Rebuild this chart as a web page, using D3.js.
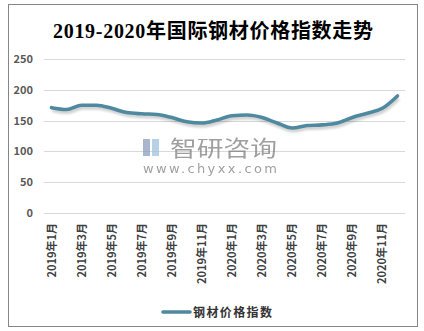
<!DOCTYPE html>
<html><head><meta charset="utf-8">
<script src="https://cdn.jsdelivr.net/npm/d3@7"></script>
<style>body{margin:0;background:#fff}svg{display:block}</style>
</head><body><svg id="c" width="424" height="331"></svg>
<script>
const title = "2019-2020年国际钢材价格指数走势";
const seriesName = "钢材价格指数";
const months = ["2019年1月","2019年2月","2019年3月","2019年4月","2019年5月","2019年6月","2019年7月","2019年8月","2019年9月","2019年10月","2019年11月","2019年12月",
"2020年1月","2020年2月","2020年3月","2020年4月","2020年5月","2020年6月","2020年7月","2020年8月","2020年9月","2020年10月","2020年11月","2020年12月"];
const values = [171,168,175,175,170,163,161,160,155,148,146,151,158,159,155,146,138,142,143,146,155,162,170,190];
const yTicks = [0,50,100,150,200,250];

const svg = d3.select("#c");
const cjk = "'Noto Sans CJK SC','Microsoft YaHei',sans-serif";
svg.append("rect").attr("x",8.5).attr("y",4.5).attr("width",409).attr("height",322)
  .attr("fill","#fff").attr("stroke","#868686").attr("stroke-width",1);

svg.append("text").attr("x",213).attr("y",38).attr("text-anchor","middle")
  .attr("font-family","'Liberation Serif','Noto Sans CJK SC',serif").attr("font-weight","bold")
  .attr("font-size",20).attr("fill","#000").attr("textLength",320).attr("lengthAdjust","spacing").text(title);

const x = d3.scaleBand().domain(months).range([44,405]);
const y = d3.scaleLinear().domain([0,250]).range([213,59]);

const grid = svg.append("g");
grid.selectAll("line").data(yTicks).join("line")
  .attr("x1",44).attr("x2",405).attr("y1",d=>Math.round(y(d))+0.5).attr("y2",d=>Math.round(y(d))+0.5)
  .attr("stroke","#d9d9d9").attr("stroke-width",1);

const yAxis = d3.axisLeft(y).tickValues(yTicks).tickSize(0).tickPadding(0);
const gy = svg.append("g").attr("transform","translate(33,0)").call(yAxis);
gy.select(".domain").remove();
gy.selectAll("text").attr("font-family",cjk).attr("font-size",11).attr("font-weight","bold").attr("fill","#595959");

// watermark
const wm = svg.append("g").attr("opacity",0.75);
wm.append("rect").attr("x",143).attr("y",139).attr("width",7).attr("height",17).attr("fill","#8a9fbf");
wm.append("rect").attr("x",152).attr("y",139).attr("width",7).attr("height",17).attr("fill","#9fc3e0");
wm.append("text").attr("x",170).attr("y",156).attr("font-family",cjk).attr("font-size",22)
  .attr("fill","#7f7f7f").attr("textLength",107).attr("lengthAdjust","spacingAndGlyphs").text("智研咨询");
wm.append("text").attr("x",143).attr("y",173).attr("font-family","'DejaVu Sans',sans-serif").attr("font-size",13)
  .attr("fill","#7f7f7f").attr("textLength",134).attr("lengthAdjust","spacing").text("www.chyxx.com");

const line = d3.line().x((d,i)=>x(months[i])+x.bandwidth()/2).y(d=>y(d)).curve(d3.curveMonotoneX);
svg.append("path").datum(values).attr("d",line).attr("fill","none")
  .attr("stroke","#000").attr("stroke-opacity",0.18).attr("stroke-width",4).attr("transform","translate(1,2.5)")
  .style("filter","blur(1.2px)");
svg.append("path").datum(values).attr("d",line).attr("fill","none")
  .attr("stroke","#4f89a0").attr("stroke-width",3.6).attr("stroke-linecap","round").attr("stroke-linejoin","round");

const xAxis = svg.append("g");
xAxis.selectAll("text").data(months.filter((d,i)=>i%2===0)).join("text")
  .attr("transform",d=>`translate(${x(d)+x.bandwidth()/2+4},223) rotate(-90)`)
  .attr("text-anchor","end").attr("font-family",cjk).attr("font-size",11).attr("font-weight","bold")
  .attr("fill","#404040").text(d=>d);

svg.append("line").attr("x1",163).attr("x2",190).attr("y1",312).attr("y2",312)
  .attr("stroke","#4f89a0").attr("stroke-width",3.6).attr("stroke-linecap","round");
svg.append("text").attr("x",193).attr("y",316.5).attr("font-family",cjk).attr("font-size",12)
  .attr("font-weight","bold").attr("fill","#333").attr("textLength",79).attr("lengthAdjust","spacing").text(seriesName);
</script></body></html>
